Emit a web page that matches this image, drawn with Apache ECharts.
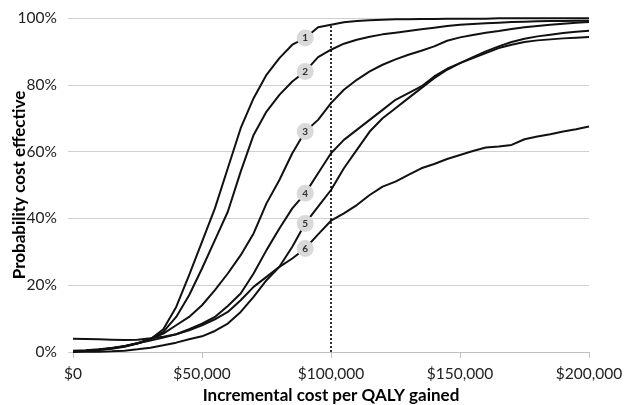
<!DOCTYPE html>
<html>
<head>
<meta charset="utf-8">
<script src="https://cdn.jsdelivr.net/npm/echarts@6/dist/echarts.min.js"></script>
<style>
  html, body { margin: 0; padding: 0; background: #fff; }
  #chart { width: 632px; height: 405px; }
</style>
</head>
<body>
<div id="chart"></div>
<script>
// Willingness-to-pay thresholds (USD per QALY gained)
const costs = [
  0, 5000, 10000, 15000, 20000, 25000, 30000, 35000, 40000, 45000,
  50000, 55000, 60000, 65000, 70000, 75000, 80000, 85000, 90000, 95000,
  100000, 105000, 110000, 115000, 120000, 125000, 130000, 135000, 140000, 145000,
  150000, 155000, 160000, 165000, 170000, 175000, 180000, 185000, 190000, 195000,
  200000
];

// Probability (%) that each strategy is cost effective at each threshold
const strategy1 = [0.3, 0.4, 0.7, 1.0, 1.6, 2.5, 3.8, 6.8, 13.5, 23, 33, 43, 55, 67, 76, 83, 88, 92, 94, 97.2,
  98, 98.7, 99.1, 99.3, 99.5, 99.6, 99.6, 99.7, 99.7, 99.8, 99.8, 99.8, 99.8, 99.9, 99.9, 99.9, 99.9, 99.9, 99.9, 99.9, 99.9];
const strategy2 = [0.3, 0.4, 0.7, 1.1, 1.7, 2.6, 3.9, 6, 10.5, 17, 25, 33.5, 42, 54, 65, 72, 77, 81, 84, 88.3,
  90.5, 92.3, 93.5, 94.4, 95.1, 95.6, 96.1, 96.6, 97.1, 97.6, 98, 98.2, 98.4, 98.6, 98.8, 98.9, 99, 99.1, 99.1, 99.2, 99.2];
const strategy3 = [0.3, 0.4, 0.7, 1.1, 1.7, 2.6, 3.8, 5.5, 8, 10.5, 14, 18.5, 23.5, 29, 35.5, 44.5, 51.5, 59.5, 66, 69.5,
  74.5, 78.5, 81.5, 84, 86, 87.6, 89, 90.2, 91.5, 93.2, 94.2, 94.9, 95.6, 96.1, 96.7, 97.2, 97.6, 98, 98.3, 98.6, 98.8];
const strategy4 = [0.4, 0.5, 0.8, 1.2, 1.8, 2.6, 3.4, 4.3, 5.3, 6.8, 8.5, 10.5, 13.8, 17.5, 23.5, 30.5, 37, 43, 47.5, 53.5,
  59.5, 63.5, 66.5, 69.5, 72.5, 75.5, 77.5, 79.5, 82.5, 84.8, 86.5, 88, 89.5, 91, 92, 92.8, 93.3, 93.6, 93.9, 94.1, 94.3];
const strategy5 = [0, 0.05, 0.1, 0.2, 0.4, 0.8, 1.3, 2, 2.8, 3.8, 4.7, 6.3, 8.5, 12, 16.5, 21.5, 25.5, 31.5, 38.5, 43.5,
  48.5, 55, 60.5, 66, 70, 73, 76, 79, 82, 84.5, 86.5, 88.3, 90, 91.5, 92.8, 93.8, 94.5, 95, 95.5, 95.9, 96.2];
const strategy6 = [4, 3.9, 3.8, 3.7, 3.6, 3.7, 4.1, 4.6, 5.3, 6.5, 8, 9.8, 12, 15.5, 19.5, 22.5, 25.5, 28, 31, 35.2,
  39.3, 41.5, 44, 47, 49.5, 51, 53, 55, 56.3, 57.8, 59, 60.2, 61.2, 61.5, 62, 63.7, 64.5, 65.2, 66, 66.7, 67.5];

const strategies = [strategy1, strategy2, strategy3, strategy4, strategy5, strategy6];
const strategyNames = ['1', '2', '3', '4', '5', '6'];

// Threshold marked by the dotted reference line, and where the numbered badges sit
const threshold = 100000;
const badgeCost = 90000;

const FONT = 'Lato, "Open Sans", sans-serif';

const chart = echarts.init(document.getElementById('chart'), null, { renderer: 'canvas' });

const series = strategies.map((vals, k) => {
  const badgeIdx = costs.indexOf(badgeCost);
  const s = {
    name: strategyNames[k],
    type: 'line',
    data: costs.map((c, i) => [c, vals[i]]),
    showSymbol: false,
    symbol: 'none',
    smooth: false,
    animation: false,
    lineStyle: { color: '#111', width: 2 },
    z: 3,
    markPoint: {
      symbol: 'circle',
      symbolSize: 17,
      silent: true,
      animation: false,
      itemStyle: { color: '#d9d9d9' },
      label: {
        show: true,
        formatter: strategyNames[k],
        color: '#333',
        fontSize: 10,
        fontWeight: 'bold',
        fontFamily: FONT
      },
      data: [{ coord: [badgeCost, vals[badgeIdx]] }]
    }
  };
  if (k === 0) {
    const thrIdx = costs.indexOf(threshold);
    s.markLine = {
      silent: true,
      symbol: ['none', 'none'],
      animation: false,
      label: { show: false },
      lineStyle: { color: '#000', width: 1.6, type: [2, 2] },
      data: [[{ coord: [threshold, 0] }, { coord: [threshold, vals[thrIdx]] }]]
    };
  }
  return s;
});

chart.setOption({
  animation: false,
  backgroundColor: '#fff',
  grid: { left: 73, right: 43, top: 18, bottom: 53, containLabel: false, outerBoundsMode: 'none' },
  xAxis: {
    type: 'value',
    min: 0,
    max: 200000,
    interval: 50000,
    name: 'Incremental cost per QALY gained',
    nameLocation: 'middle',
    nameGap: 35,
    nameMoveOverlap: false,
    nameTextStyle: { fontFamily: FONT, fontWeight: 'bold', fontSize: 17, color: '#000' },
    axisLine: { show: true, lineStyle: { color: '#bfbfbf', width: 1 } },
    axisTick: { show: true, length: 6, lineStyle: { color: '#bfbfbf' } },
    axisLabel: {
      fontFamily: FONT, fontSize: 15.5, color: '#222', margin: 14,
      formatter: v => '$' + v.toLocaleString('en-US')
    },
    splitLine: { show: false }
  },
  yAxis: {
    type: 'value',
    min: 0,
    max: 100,
    interval: 20,
    name: 'Probability cost effective',
    nameLocation: 'middle',
    nameGap: 45,
    nameMoveOverlap: false,
    nameTextStyle: { fontFamily: FONT, fontWeight: 'bold', fontSize: 17, color: '#000' },
    axisLine: { show: false },
    axisTick: { show: true, length: 5, lineStyle: { color: '#d0d0d0' } },
    axisLabel: { fontFamily: FONT, fontSize: 15.5, color: '#222', margin: 16, formatter: '{value}%' },
    splitLine: { show: true, lineStyle: { color: '#d0d0d0', width: 1.2 } }
  },
  series: series
});
</script>
</body>
</html>
